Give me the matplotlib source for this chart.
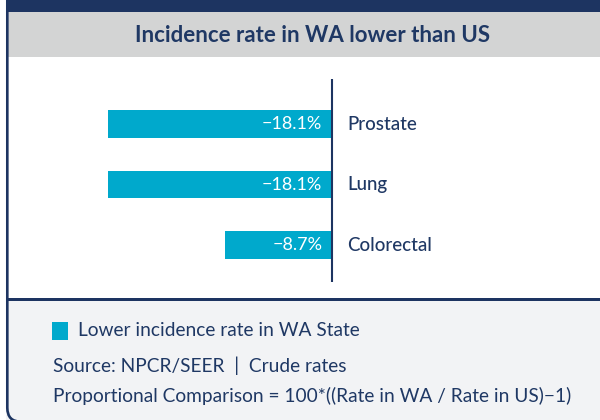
import matplotlib
matplotlib.use("Agg")
import matplotlib.pyplot as plt
from matplotlib.patches import Rectangle, FancyBboxPatch
from matplotlib.transforms import IdentityTransform

# Data
categories = ["Prostate", "Lung", "Colorectal"]
values = [-18.1, -18.1, -8.7]

title = "Incidence rate in WA lower than US"
legend_label = "Lower incidence rate in WA State"
source_line = "Source: NPCR/SEER  |  Crude rates"
formula_line = "Proportional Comparison = 100*((Rate in WA / Rate in US)\u22121)"

# Colours
NAVY = "#1d3461"
TEXT = "#1f3864"
HEADER_GRAY = "#d3d4d4"
FOOTER_GRAY = "#f2f3f5"
BAR = "#00a9cc"

FONT = ["Lato", "DejaVu Sans"]
plt.rcParams["font.family"] = FONT

W, H = 600, 420
fig = plt.figure(figsize=(W / 100, H / 100), dpi=100)
fig.patch.set_facecolor("white")


def fx(x):
    return x / W


def fy(y):
    return 1 - y / H


def band(x0, y0, x1, y1, color, z=0):
    fig.add_artist(Rectangle((fx(x0), fy(y1)), (x1 - x0) / W, (y1 - y0) / H,
                             transform=fig.transFigure, facecolor=color,
                             edgecolor="none", zorder=z))


# Panel background: top strip, header, body, footer
band(6, 0, 600, 12, NAVY)
band(6, 12, 600, 57, HEADER_GRAY)
band(6, 300, 600, 422, FOOTER_GRAY)
band(6, 298, 600, 301, NAVY, z=1)

# Rounded panel border (display pixels)
border = FancyBboxPatch((7.3, -1.8), 800, 600,
                        boxstyle="round,pad=0,rounding_size=14",
                        transform=IdentityTransform(), facecolor="none",
                        edgecolor=NAVY, linewidth=1.9, zorder=2)
fig.add_artist(border)

fig.text(fx(313), fy(35), title, ha="center", va="center", fontsize=16,
         fontweight="bold", color=TEXT)

# Bar chart
ax = fig.add_axes([fx(60), fy(282), 500 / W, 203 / H])
ax.set_xlim(-22, 18.4)
ax.set_ylim(2.61, -0.744)
ax.axis("off")
ax.patch.set_alpha(0)

ypos = list(range(len(categories)))
ax.barh(ypos, values, height=0.455, color=BAR, zorder=2)
ax.axvline(0, color=NAVY, linewidth=1.5, zorder=3)

for y, v, cat in zip(ypos, values, categories):
    ax.annotate(f"{v:.1f}%".replace("-", "\u2212"), xy=(0, y), xytext=(-10, 0),
                textcoords="offset pixels", ha="right", va="center",
                color="white", fontsize=13, zorder=4)
    ax.annotate(cat, xy=(0, y), xytext=(15, 0), textcoords="offset pixels",
                ha="left", va="center", color=TEXT, fontsize=13.5,
                fontweight="medium", zorder=4)

# Footer: legend and notes
band(52, 322, 68, 340, BAR, z=3)
fig.text(fx(78), fy(331), legend_label, ha="left", va="center",
         fontsize=13.8, color=TEXT)
fig.text(fx(53), fy(366), source_line, ha="left", va="center",
         fontsize=13.8, color=TEXT)
fig.text(fx(53), fy(396), formula_line, ha="left", va="center",
         fontsize=13.8, color=TEXT)

fig.savefig("out.png", dpi=100)
